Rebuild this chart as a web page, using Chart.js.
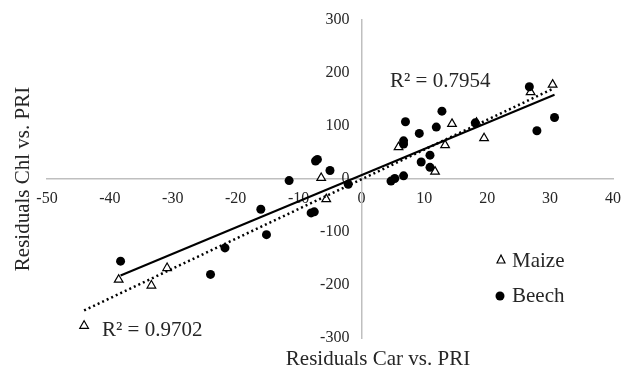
<!DOCTYPE html>
<html lang="en">
<head>
  <meta charset="UTF-8">
  <title>Residuals Chl vs. PRI</title>
  <script src="https://cdn.jsdelivr.net/npm/chart.js"></script>
  <style>
    body {
      margin: 0;
      padding: 0;
      background: #fff;
    }
    .chart-box {
      position: relative;
      width: 624px;
      height: 371px;
    }
  </style>
</head>
<body>
  <div class="chart-box">
    <canvas id="residualChart"></canvas>
  </div>

  <script>
    // values
    const maizeX = [-44.1, -38.6, -33.4, -30.9, -6.4, -5.6, 5.9, 11.7, 13.3, 14.4, 18.3, 19.5, 26.9, 30.4];
    const maizeY = [-277, -190, -201, -168, 2, -38, 60, 14, 64, 104, 106, 77, 164, 178];

    const beechX = [-38.3, -24.0, -21.7, -16.0, -15.1, -11.5, -8.0, -7.5, -7.3, -7.0, -5.0, -2.1,
                    4.7, 5.3, 6.7, 6.7, 6.7, 7.0, 9.2, 9.5, 10.9, 10.9, 11.9, 12.8, 18.1, 26.7, 27.9, 30.7];
    const beechY = [-155, -180, -130, -57, -105, -3, -64, -62, 34, 37, 16, -10,
                    -4, 1, 6, 66, 72, 108, 86, 32, 45, 22, 98, 128, 106, 174, 91, 116];

    // trendline end points
    const maizeTrendX = [-44.1, 30.4];
    const maizeTrendY = [-248, 170];
    const beechTrendX = [-38.3, 30.7];
    const beechTrendY = [-182, 159];

    const xTicks = [-50, -40, -30, -20, -10, 0, 10, 20, 30, 40];
    const yTicks = [-300, -200, -100, 0, 100, 200, 300];

    const maizeR2 = 'R² = 0.9702';
    const beechR2 = 'R² = 0.7954';

    const toPoints = (xs, ys) => xs.map((x, i) => ({ x: x, y: ys[i] }));

    const serif = "'Liberation Serif', 'Times New Roman', serif";
    const textColor = '#262626';

    // drop the extra room chart.js keeps for the end labels
    const noPad = s => {
      s.paddingLeft = 0;
      s.paddingRight = 0;
      s.paddingTop = 0;
      s.paddingBottom = 0;
    };

    // y labels of a centred axis ignore ticks.padding, so push them left here
    const yLabelGap = {
      id: 'yLabelGap',
      beforeDraw(chart) {
        const items = chart.scales.y.getLabelItems();
        items.forEach(it => { it.options.translation[0] -= 12; });
      }
    };

    // axis titles, R² labels and the legend
    const extrasPlugin = {
      id: 'extras',
      afterDraw(chart) {
        const ctx = chart.ctx;
        ctx.save();
        ctx.fillStyle = textColor;
        ctx.font = '21px ' + serif;
        ctx.textBaseline = 'middle';

        ctx.textAlign = 'center';
        ctx.fillText('Residuals Car vs. PRI', 378, 359);

        ctx.save();
        ctx.translate(23, 179);
        ctx.rotate(-Math.PI / 2);
        ctx.fillText('Residuals Chl vs. PRI', 0, 0);
        ctx.restore();

        ctx.textAlign = 'left';
        ctx.fillText(beechR2, 390, 81);
        ctx.fillText(maizeR2, 102, 330);

        // legend
        ctx.fillText('Maize', 512, 261);
        ctx.fillText('Beech', 512, 296);

        ctx.strokeStyle = '#000';
        ctx.lineWidth = 1.2;
        ctx.beginPath();
        ctx.moveTo(501, 255);
        ctx.lineTo(505, 263);
        ctx.lineTo(497, 263);
        ctx.closePath();
        ctx.stroke();

        ctx.fillStyle = '#000';
        ctx.beginPath();
        ctx.arc(500, 296, 4.5, 0, Math.PI * 2);
        ctx.fill();
        ctx.restore();
      }
    };

    new Chart(document.getElementById('residualChart'), {
      type: 'scatter',
      data: {
        datasets: [
          {
            label: 'Maize',
            data: toPoints(maizeX, maizeY),
            pointStyle: 'triangle',
            pointRadius: 5,
            pointBorderWidth: 1.2,
            borderColor: '#000',
            backgroundColor: '#fff',
            order: 3
          },
          {
            label: 'Beech',
            data: toPoints(beechX, beechY),
            pointStyle: 'circle',
            pointRadius: 4.5,
            pointBorderWidth: 0,
            borderColor: '#000',
            backgroundColor: '#000',
            order: 2
          },
          {
            label: 'Maize trend',
            type: 'line',
            data: toPoints(maizeTrendX, maizeTrendY),
            borderColor: '#000',
            borderWidth: 2.5,
            borderDash: [2, 3],
            pointRadius: 0,
            fill: false,
            order: 1
          },
          {
            label: 'Beech trend',
            type: 'line',
            data: toPoints(beechTrendX, beechTrendY),
            borderColor: '#000',
            borderWidth: 2,
            pointRadius: 0,
            fill: false,
            order: 0
          }
        ]
      },
      options: {
        responsive: true,
        maintainAspectRatio: false,
        animation: false,
        layout: {
          padding: { left: 47, right: 11, top: 20, bottom: 33 }
        },
        plugins: {
          legend: { display: false },
          tooltip: { enabled: false }
        },
        scales: {
          x: {
            type: 'linear',
            position: { y: 0 },
            min: -50,
            max: 40,
            afterBuildTicks: axis => { axis.ticks = xTicks.map(v => ({ value: v })); },
            afterFit: noPad,
            grid: { display: false, drawTicks: false },
            border: { display: true, color: '#bfbfbf', width: 1.5 },
            ticks: {
              padding: 10,
              color: textColor,
              font: { family: serif, size: 16 }
            }
          },
          y: {
            type: 'linear',
            position: { x: 0 },
            min: -300,
            max: 300,
            afterBuildTicks: axis => { axis.ticks = yTicks.map(v => ({ value: v })); },
            afterFit: noPad,
            grid: { display: false, drawTicks: false },
            border: { display: true, color: '#bfbfbf', width: 1.5 },
            ticks: {
              color: textColor,
              font: { family: serif, size: 16 }
            }
          }
        }
      },
      plugins: [yLabelGap, extrasPlugin]
    });
  </script>
</body>
</html>
